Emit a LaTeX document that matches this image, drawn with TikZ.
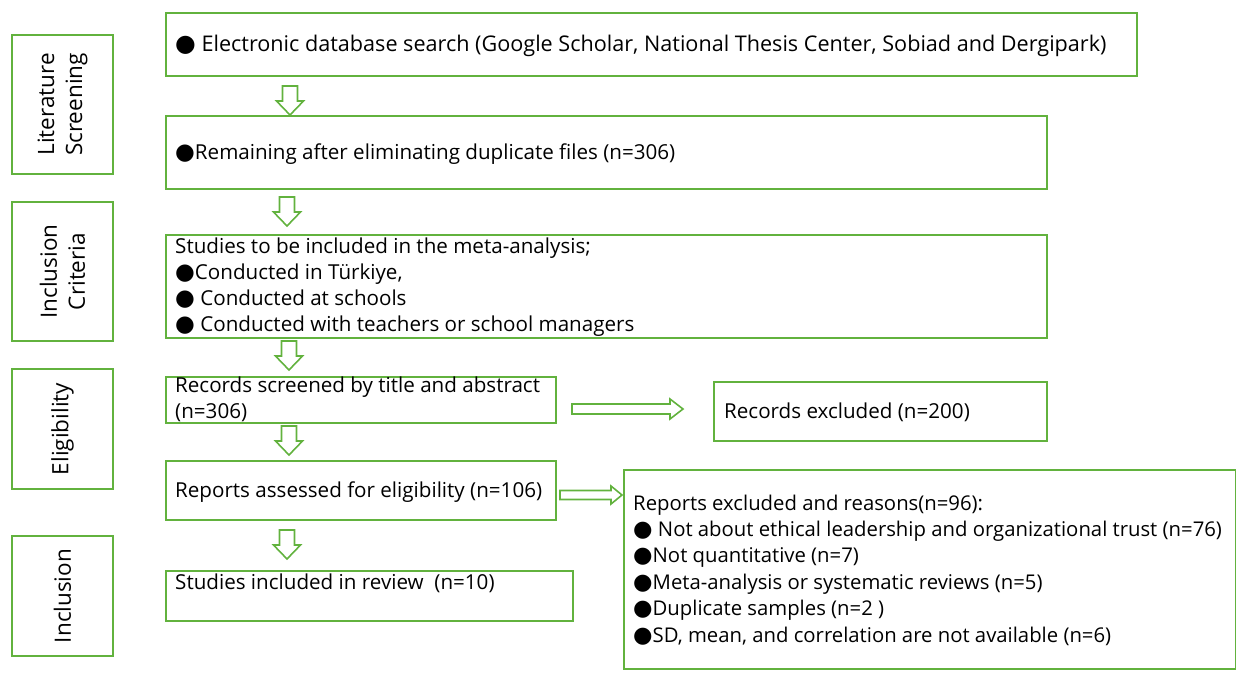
\documentclass[tikz,border=0pt]{standalone}
\usepackage{fontspec}
\setmainfont{Open Sans}
\newfontfamily\symfont{DejaVu Sans}
\definecolor{grn}{RGB}{98,178,62}
\newcommand{\bul}{{\symfont\scalebox{1.1}{●}}}
\begin{document}
\begin{tikzpicture}[x=1pt,y=-1pt,
  box/.style={draw=grn,line width=2pt,inner sep=0pt,anchor=north west},
  txt/.style={anchor=west,inner sep=0pt,font=\fontsize{20.6}{26.2}\selectfont,align=left},
  side/.style={anchor=center,inner sep=0pt,rotate=90,font=\fontsize{22.5}{28}\selectfont,align=center},
  darrow/.pic={\draw[grn,line width=1.6pt,fill=white] (-7.5,0) -- (7.5,0) -- (7.5,15) -- (13.5,15) -- (0,29) -- (-13.5,15) -- (-7.5,15) -- cycle;},
]
\useasboundingbox (0,0) rectangle (1236,674);
% side boxes
\node[box,minimum width=101pt,minimum height=139pt] (s1) at (11,34) {};
\node[box,minimum width=101pt,minimum height=139pt] (s2) at (11,201) {};
\node[box,minimum width=101pt,minimum height=120pt] (s3) at (11,368) {};
\node[box,minimum width=101pt,minimum height=120pt] (s4) at (11,535) {};
\node[side] (s1t) at (s1.center) {Literature\\Screening};
\node[side] (s2t) at (s2.center) {Inclusion\\Criteria};
\node[side] (s3t) at (s3.center) {Eligibility};
\node[side] (s4t) at (s4.center) {Inclusion};
% main boxes
\node[box,minimum width=971pt,minimum height=63pt] (b1) at (165,12) {};
\node[box,minimum width=881pt,minimum height=73pt] (b2) at (165,115) {};
\node[box,minimum width=881pt,minimum height=103pt] (b3) at (165,234) {};
\node[box,minimum width=390pt,minimum height=46pt] (b4) at (165,376) {};
\node[box,minimum width=390pt,minimum height=59pt] (b5) at (165,460) {};
\node[box,minimum width=407pt,minimum height=50pt] (b6) at (165,570) {};
\node[box,minimum width=333pt,minimum height=59pt] (r1) at (713,381) {};
\node[box,minimum width=612pt,minimum height=199pt] (r2) at (623,469) {};
% texts
\node[txt,font=\fontsize{21.6}{26.2}\selectfont] (t1) at (175,46) {\bul\ Electronic database search (Google Scholar, National Thesis Center, Sobiad and Dergipark)};
\node[txt] (t2) at (175,154) {\bul Remaining after eliminating duplicate files (n=306)};
\node[txt] (t3) at (175,287) {Studies to be included in the meta-analysis;\\\bul Conducted in Türkiye,\\\bul\ Conducted at schools\\\bul\ Conducted with teachers or school managers};
\node[txt] (t4) at (175,399) {Records screened by title and abstract\\(n=306)};
\node[txt] (t5) at (175,492) {Reports assessed for eligibility (n=106)};
\node[txt] (t6) at (175,583) {Studies included in review\ \ (n=10)};
\node[txt] (t7) at (724,412) {Records excluded (n=200)};
\node[txt,font=\fontsize{20.3}{26.4}\selectfont] (t8) at (633,570) {Reports excluded and reasons(n=96):\\\bul\ Not about ethical leadership and organizational trust (n=76)\\\bul Not quantitative (n=7)\\\bul Meta-analysis or systematic reviews (n=5)\\\bul Duplicate samples (n=2 )\\\bul SD, mean, and correlation are not available (n=6)};
% down arrows
\coordinate (a1) at (290,86);
\coordinate (a2) at (287,197);
\coordinate (a3) at (289,341);
\coordinate (a4) at (289,426);
\coordinate (a5) at (287,530);
\foreach \c in {a1,a2,a3,a4,a5} \pic at (\c) {darrow};
% right arrows
\coordinate (ra) at (572,409);
\coordinate (rb) at (560,495);
\draw[grn,line width=1.6pt,fill=white] (ra) ++(0,-5) -- ++(98,0) -- ++(0,-5) -- ++(13,10) -- ++(-13,10) -- ++(0,-5) -- ++(-98,0) -- cycle;
\draw[grn,line width=1.6pt,fill=white] (rb) ++(0,-4.5) -- ++(51,0) -- ++(0,-4.5) -- ++(11,9) -- ++(-11,9) -- ++(0,-4.5) -- ++(-51,0) -- cycle;
\end{tikzpicture}
\end{document}
